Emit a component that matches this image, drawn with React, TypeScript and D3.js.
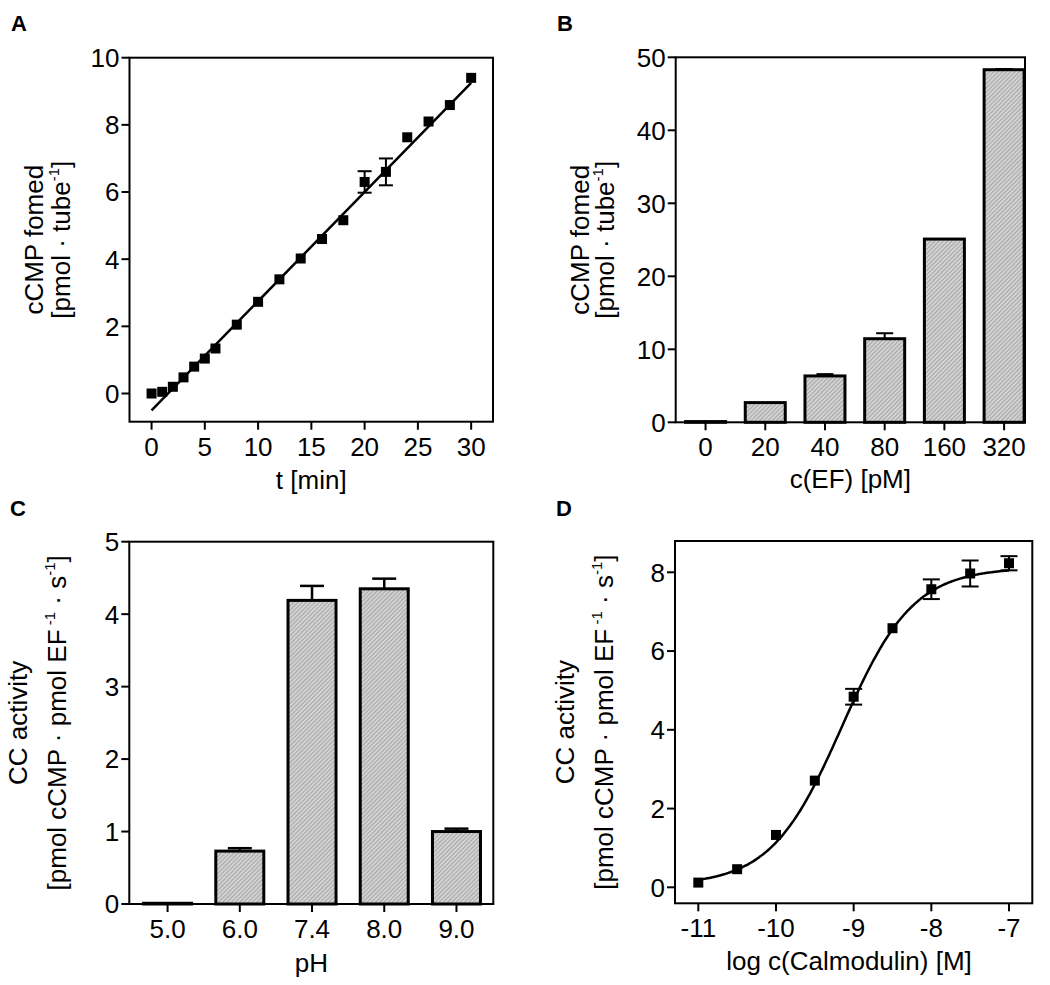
import React from "react";
import * as d3 from "d3";

// ---------- Data ----------
// Panel A: time course
const timeMin = [0, 1, 2, 3, 4, 5, 6, 8, 10, 12, 14, 16, 18, 20, 22, 24, 26, 28, 30];
const cmpFormedA = [0.0, 0.05, 0.2, 0.48, 0.8, 1.04, 1.34, 2.05, 2.73, 3.4, 4.02, 4.6, 5.16, 6.3, 6.6, 7.63, 8.1, 8.59, 9.4];
const errA = [0, 0, 0, 0, 0, 0, 0, 0, 0, 0, 0, 0, 0, 0.32, 0.4, 0, 0, 0, 0];
const fitA = { intercept: -0.5, slope: 0.325, from: 0, to: 30 };
const ticksAx = [0, 5, 10, 15, 20, 25, 30];
const ticksAy = [0, 2, 4, 6, 8, 10];

// Panel B: EF concentration
const efLabels = ["0", "20", "40", "80", "160", "320"];
const cmpFormedB = [0.1, 2.7, 6.35, 11.45, 25.1, 48.3];
const errB = [0, 0, 0.25, 0.75, 0, 0.1];
const ticksBy = [0, 10, 20, 30, 40, 50];

// Panel C: pH
const phLabels = ["5.0", "6.0", "7.4", "8.0", "9.0"];
const activityC = [0.01, 0.73, 4.19, 4.35, 1.0];
const errC = [0, 0.04, 0.2, 0.14, 0.04];
const ticksCy = [0, 1, 2, 3, 4, 5];

// Panel D: calmodulin
const logCaM = [-11, -10.5, -10, -9.5, -9, -8.5, -8, -7.5, -7];
const activityD = [0.12, 0.46, 1.33, 2.71, 4.84, 6.58, 7.57, 7.97, 8.23];
const errD = [0, 0, 0, 0, 0.2, 0, 0.25, 0.33, 0.18];
const fitD = { bottom: 0.05, top: 8.12, logEC50: -9.15, hill: 0.95, from: -11, to: -7 };
const ticksDx = [-11, -10, -9, -8, -7];
const ticksDy = [0, 2, 4, 6, 8];

// ---------- Styles ----------
const FONT = "Liberation Sans, Arial, Helvetica, sans-serif";
const TICK_FS = 26;
const TITLE_FS = 26;
const SUP_FS = 15;
const TICK_LEN = 8;

type Box = { left: number; top: number; right: number; bottom: number };

function Frame({ box }: { box: Box }) {
  return (
    <rect
      x={box.left}
      y={box.top}
      width={box.right - box.left}
      height={box.bottom - box.top}
      fill="none"
      stroke="#000"
      strokeWidth={2}
    />
  );
}

function YTicks({ box, scale, ticks }: { box: Box; scale: (v: number) => number; ticks: number[] }) {
  return (
    <g>
      {ticks.map((t) => (
        <g key={t}>
          <line x1={box.left - TICK_LEN} x2={box.left} y1={scale(t)} y2={scale(t)} stroke="#000" strokeWidth={2} />
          <text
            x={box.left - TICK_LEN - 2}
            y={scale(t)}
            dy="0.36em"
            textAnchor="end"
            fontSize={TICK_FS}
            fontFamily={FONT}
          >
            {String(t)}
          </text>
        </g>
      ))}
    </g>
  );
}

function XTicks({ box, positions, labels }: { box: Box; positions: number[]; labels: string[] }) {
  return (
    <g>
      {positions.map((p, i) => (
        <g key={i}>
          <line x1={p} x2={p} y1={box.bottom} y2={box.bottom + TICK_LEN} stroke="#000" strokeWidth={2} />
          <text x={p} y={box.bottom + 34} textAnchor="middle" fontSize={TICK_FS} fontFamily={FONT}>
            {labels[i]}
          </text>
        </g>
      ))}
    </g>
  );
}

function Marker({ x, y }: { x: number; y: number }) {
  const s = 10;
  return <rect x={x - s / 2} y={y - s / 2} width={s} height={s} fill="#000" />;
}

function ErrBar({ x, y1, y2, cap, w = 2 }: { x: number; y1: number; y2: number; cap: number; w?: number }) {
  return (
    <g stroke="#000" strokeWidth={w}>
      <line x1={x} x2={x} y1={y1} y2={y2} />
      <line x1={x - cap / 2} x2={x + cap / 2} y1={y2} y2={y2} />
    </g>
  );
}

function SymErr({ x, ylo, yhi, cap }: { x: number; ylo: number; yhi: number; cap: number }) {
  return (
    <g stroke="#000" strokeWidth={2}>
      <line x1={x} x2={x} y1={ylo} y2={yhi} />
      <line x1={x - cap / 2} x2={x + cap / 2} y1={ylo} y2={ylo} />
      <line x1={x - cap / 2} x2={x + cap / 2} y1={yhi} y2={yhi} />
    </g>
  );
}

function PanelLabel({ x, y, text }: { x: number; y: number; text: string }) {
  return (
    <text x={x} y={y} fontSize={22} fontWeight="bold" fontFamily={FONT}>
      {text}
    </text>
  );
}

function CmpTitle({ cy, x1, x2 }: { cy: number; x1: number; x2: number }) {
  return (
    <g fontFamily={FONT} fontSize={TITLE_FS}>
      <text transform={`translate(${x1},${cy}) rotate(-90)`} textAnchor="middle">
        cCMP fomed
      </text>
      <text transform={`translate(${x2},${cy}) rotate(-90)`} textAnchor="middle">
        [pmol · tube
        <tspan fontSize={SUP_FS} dy={-11}>-1</tspan>
        <tspan dy={11}>]</tspan>
      </text>
    </g>
  );
}

function ActTitle({ cy, x1, x2 }: { cy: number; x1: number; x2: number }) {
  return (
    <g fontFamily={FONT} fontSize={TITLE_FS}>
      <text transform={`translate(${x1},${cy}) rotate(-90)`} textAnchor="middle">
        CC activity
      </text>
      <text transform={`translate(${x2},${cy}) rotate(-90)`} textAnchor="middle">
        [pmol cCMP · pmol EF
        <tspan fontSize={SUP_FS} dy={-11}> -1</tspan>
        <tspan dy={11}> · s</tspan>
        <tspan fontSize={SUP_FS} dy={-11}>-1</tspan>
        <tspan dy={11}>]</tspan>
      </text>
    </g>
  );
}

// ---------- Panels ----------
function PanelA() {
  const box: Box = { left: 129.5, top: 57.7, right: 493, bottom: 421.7 };
  const x = d3.scaleLinear().domain([-2.07, 32.05]).range([box.left, box.right]);
  const y = d3.scaleLinear().domain([-0.84, 10]).range([box.bottom, box.top]);
  const fitLine = d3.line<number>().x((t) => x(t)).y((t) => y(fitA.intercept + fitA.slope * t));
  return (
    <g>
      <Frame box={box} />
      <YTicks box={box} scale={y} ticks={ticksAy} />
      <XTicks box={box} positions={ticksAx.map(x)} labels={ticksAx.map(String)} />
      <path d={fitLine([fitA.from, fitA.to]) || ""} fill="none" stroke="#000" strokeWidth={2.5} />
      {timeMin.map((t, i) =>
        errA[i] > 0 ? (
          <SymErr key={"e" + i} x={x(t)} ylo={y(cmpFormedA[i] - errA[i])} yhi={y(cmpFormedA[i] + errA[i])} cap={14} />
        ) : null
      )}
      {timeMin.map((t, i) => (
        <Marker key={i} x={x(t)} y={y(cmpFormedA[i])} />
      ))}
      <text x={(box.left + box.right) / 2} y={489} textAnchor="middle" fontSize={TITLE_FS} fontFamily={FONT}>
        t [min]
      </text>
      <CmpTitle cy={(box.top + box.bottom) / 2} x1={43} x2={69.5} />
      <PanelLabel x={11} y={31} text="A" />
    </g>
  );
}

function PanelB() {
  const box: Box = { left: 675.7, top: 57.3, right: 1025, bottom: 422.3 };
  const x = d3.scaleLinear().domain([-0.5, 5.35]).range([box.left, box.right]);
  const y = d3.scaleLinear().domain([0, 50]).range([box.bottom, box.top]);
  const bw = 40;
  return (
    <g>
      {cmpFormedB.map((v, i) =>
        errB[i] > 0 ? <ErrBar key={"e" + i} x={x(i)} y1={y(v)} y2={y(v + errB[i])} cap={17} /> : null
      )}
      {cmpFormedB.map((v, i) => (
        <rect
          key={i}
          x={x(i) - bw / 2}
          y={y(v)}
          width={bw}
          height={y(0) - y(v)}
          fill="url(#hatch)"
          stroke="#000"
          strokeWidth={3}
        />
      ))}
      <Frame box={box} />
      <YTicks box={box} scale={y} ticks={ticksBy} />
      <XTicks box={box} positions={efLabels.map((_, i) => x(i))} labels={efLabels} />
      <text x={(box.left + box.right) / 2} y={488} textAnchor="middle" fontSize={TITLE_FS} fontFamily={FONT}>
        c(EF) [pM]
      </text>
      <CmpTitle cy={(box.top + box.bottom) / 2} x1={589} x2={614} />
      <PanelLabel x={557} y={31} text="B" />
    </g>
  );
}

function PanelC() {
  const box: Box = { left: 129.3, top: 541.7, right: 493.3, bottom: 904 };
  const x = d3.scaleLinear().domain([-0.53, 4.51]).range([box.left, box.right]);
  const y = d3.scaleLinear().domain([0, 5]).range([box.bottom, box.top]);
  const bw = 48;
  return (
    <g>
      {activityC.map((v, i) =>
        errC[i] > 0 ? <ErrBar key={"e" + i} x={x(i)} y1={y(v)} y2={y(v + errC[i])} cap={24} w={2.5} /> : null
      )}
      {activityC.map((v, i) => (
        <rect
          key={i}
          x={x(i) - bw / 2}
          y={y(v)}
          width={bw}
          height={y(0) - y(v)}
          fill="url(#hatch)"
          stroke="#000"
          strokeWidth={3}
        />
      ))}
      <Frame box={box} />
      <YTicks box={box} scale={y} ticks={ticksCy} />
      <XTicks box={box} positions={phLabels.map((_, i) => x(i))} labels={phLabels} />
      <text x={(box.left + box.right) / 2} y={972} textAnchor="middle" fontSize={TITLE_FS} fontFamily={FONT}>
        pH
      </text>
      <ActTitle cy={(box.top + box.bottom) / 2} x1={27} x2={66} />
      <PanelLabel x={10} y={516} text="C" />
    </g>
  );
}

function PanelD() {
  const box: Box = { left: 675, top: 541, right: 1032.3, bottom: 903.3 };
  const x = d3.scaleLinear().domain([-11.3, -6.7]).range([box.left, box.right]);
  const y = d3.scaleLinear().domain([-0.406, 8.795]).range([box.bottom, box.top]);
  const curveXs = d3.range(fitD.from, fitD.to + 0.0001, 0.02);
  const model = (lx: number) =>
    fitD.bottom + (fitD.top - fitD.bottom) / (1 + Math.pow(10, (fitD.logEC50 - lx) * fitD.hill));
  const curve = d3.line<number>().x((v) => x(v)).y((v) => y(model(v))).curve(d3.curveMonotoneX);
  return (
    <g>
      <Frame box={box} />
      <YTicks box={box} scale={y} ticks={ticksDy} />
      <XTicks box={box} positions={ticksDx.map(x)} labels={ticksDx.map(String)} />
      <path d={curve(curveXs) || ""} fill="none" stroke="#000" strokeWidth={2.5} />
      {logCaM.map((lx, i) =>
        errD[i] > 0 ? (
          <SymErr key={"e" + i} x={x(lx)} ylo={y(activityD[i] - errD[i])} yhi={y(activityD[i] + errD[i])} cap={17} />
        ) : null
      )}
      {logCaM.map((lx, i) => (
        <Marker key={i} x={x(lx)} y={y(activityD[i])} />
      ))}
      <text x={849} y={970} textAnchor="middle" fontSize={TITLE_FS} fontFamily={FONT}>
        log c(Calmodulin) [M]
      </text>
      <ActTitle cy={(box.top + box.bottom) / 2} x1={574} x2={613} />
      <PanelLabel x={556} y={516} text="D" />
    </g>
  );
}

export default function App() {
  return (
    <svg
      width={1050}
      height={985}
      viewBox="0 0 1050 985"
      style={{ position: "absolute", left: 0, top: 0, background: "#fff" }}
    >
      <defs>
        <pattern id="hatch" patternUnits="userSpaceOnUse" width={3} height={3} patternTransform="rotate(45)">
          <rect width={3} height={3} fill="#d2d2d2" />
          <line x1={0} y1={0} x2={0} y2={3} stroke="#888" strokeWidth={1.2} />
        </pattern>
      </defs>
      <rect width={1050} height={985} fill="#fff" />
      <PanelA />
      <PanelB />
      <PanelC />
      <PanelD />
    </svg>
  );
}
